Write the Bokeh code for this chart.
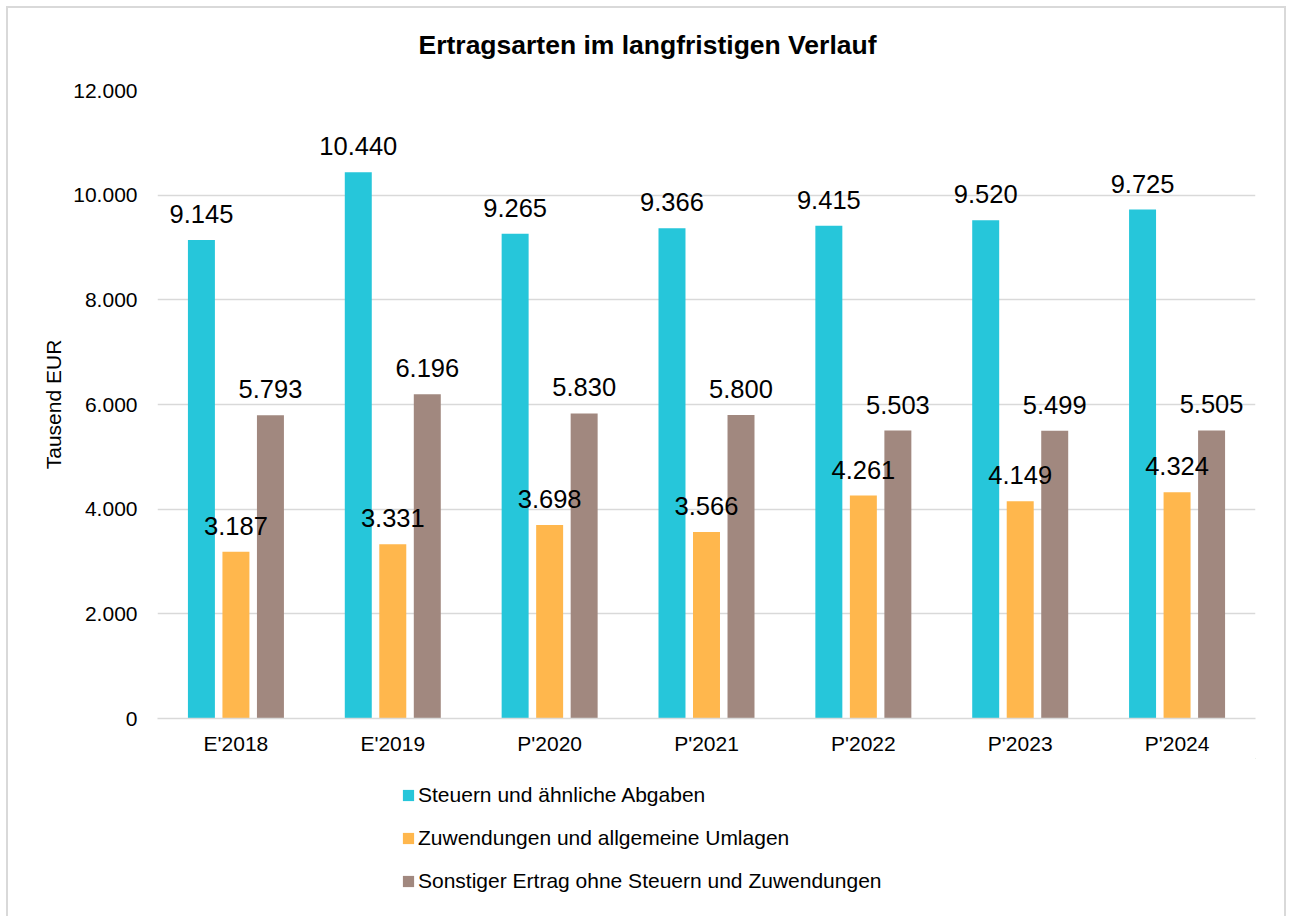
from bokeh.plotting import figure
from bokeh.layouts import column
from bokeh.models import ColumnDataSource, FactorRange, Legend, LegendItem, Title, Range1d
from bokeh.transform import dodge
from bokeh.core.properties import value
from bokeh.embed import file_html
from bokeh.resources import INLINE

categories = ["E'2018", "E'2019", "P'2020", "P'2021", "P'2022", "P'2023", "P'2024"]
steuern = [9145, 10440, 9265, 9366, 9415, 9520, 9725]
zuwendungen = [3187, 3331, 3698, 3566, 4261, 4149, 4324]
sonstige = [5793, 6196, 5830, 5800, 5503, 5499, 5505]
series_names = [
    "Steuern und ähnliche Abgaben",
    "Zuwendungen und allgemeine Umlagen",
    "Sonstiger Ertrag ohne Steuern und Zuwendungen",
]
y_ticks = [0, 2000, 4000, 6000, 8000, 10000, 12000]
y_tick_labels = ["0", "2.000", "4.000", "6.000", "8.000", "10.000", "12.000"]
title_text = "Ertragsarten im langfristigen Verlauf"
y_label = "Tausend EUR"
colors = ["#26C6DA", "#FFB74D", "#A1887F"]

FONT = "Liberation Sans"


def fmt(v):
    return f"{v:,}".replace(",", ".")


src = ColumnDataSource(dict(
    cat=categories,
    s=steuern, z=zuwendungen, o=sonstige,
    s_lbl=[fmt(v) for v in steuern],
    z_lbl=[fmt(v) for v in zuwendungen],
    o_lbl=[fmt(v) for v in sonstige],
))

W = 1276
H_MAIN = 750
H_LEG = 158

p = figure(
    x_range=FactorRange(factors=categories), y_range=(0, 12000), title=None,
    width=W, height=H_MAIN, output_backend="svg", toolbar_location=None,
    min_border_left=149, min_border_right=29, min_border_top=82, min_border_bottom=40,
    background_fill_color="white", border_fill_color="white",
)
p.outline_line_color = None

# spacer between frame and title, then the title itself
p.add_layout(Title(text=" ", text_font_size="1px", standoff=28), "above")
p.add_layout(Title(text=title_text, text_font=FONT, text_font_size="26.5px",
                   text_font_style="bold", text_color="#000000",
                   align="left", offset=261, standoff=0), "above")

offsets = [-0.22, 0.0, 0.22]
fields = ["s", "z", "o"]
for off, f, c in zip(offsets, fields, colors):
    p.vbar(x=dodge("cat", off, range=p.x_range), top=f, width=0.172, bottom=0,
           source=src, fill_color=c, line_color=None)
for off, f in zip(offsets, fields):
    p.text(x=dodge("cat", off, range=p.x_range), y=f, text=f + "_lbl", source=src,
           y_offset=-26, text_align="center", text_baseline="middle",
           text_font=value(FONT), text_font_size="25.5px", text_color="#000000")

p.xgrid.visible = False
p.ygrid.grid_line_color = "#d9d9d9"
p.ygrid.grid_line_width = 1.5

p.yaxis.ticker = y_ticks
p.yaxis.major_label_overrides = dict(zip(y_ticks, y_tick_labels))
p.yaxis.axis_line_color = None
p.yaxis.major_tick_line_color = None
p.yaxis.minor_tick_line_color = None
p.yaxis.major_label_text_font = FONT
p.yaxis.major_label_text_font_size = "21px"
p.yaxis.major_label_text_color = "#000000"
p.yaxis.major_label_standoff = 14
p.yaxis.axis_label = y_label
p.yaxis.axis_label_text_font = FONT
p.yaxis.axis_label_text_font_size = "21px"
p.yaxis.axis_label_text_font_style = "normal"
p.yaxis.axis_label_text_color = "#000000"
p.yaxis.axis_label_standoff = 5

p.xaxis.axis_line_color = "#d9d9d9"
p.xaxis.axis_line_width = 1.5
p.xaxis.major_tick_line_color = None
p.xaxis.minor_tick_line_color = None
p.xaxis.major_label_text_font = FONT
p.xaxis.major_label_text_font_size = "21px"
p.xaxis.major_label_text_color = "#000000"
p.xaxis.major_label_standoff = 7

# legend area below the chart (its frame is aligned with the chart's frame)
lp = figure(
    x_range=Range1d(0, 1), y_range=Range1d(0, 1), title=None,
    width=W, height=H_LEG, output_backend="svg", toolbar_location=None,
    x_axis_location=None, y_axis_location=None,
    min_border_left=149, min_border_right=29, min_border_top=0, min_border_bottom=0,
    background_fill_color="white", border_fill_color="white",
)
lp.outline_line_color = None
lp.xgrid.visible = False
lp.ygrid.visible = False
# swatch renderers for the legend: one point each, placed outside the visible range
leg_renderers = [lp.vbar(x=[5], top=[5], bottom=[4], width=0.1, fill_color=c, line_color=None)
                 for c in colors]

legend = Legend(
    items=[LegendItem(label=n, renderers=[r]) for n, r in zip(series_names, leg_renderers)],
    location=(244, 22), orientation="vertical",
    glyph_width=14, glyph_height=14, label_standoff=3, spacing=17, label_height=26,
    padding=0, margin=0, border_line_color=None, background_fill_alpha=0,
    label_text_font=FONT, label_text_font_size="21px", label_text_color="#000000",
)
lp.add_layout(legend, "center")

layout = column(p, lp, spacing=0,
                styles={"outline": "2px solid #d9d9d9", "margin-left": "8px", "margin-top": "8px"})

open("out.html", "w").write(file_html(layout, INLINE))
